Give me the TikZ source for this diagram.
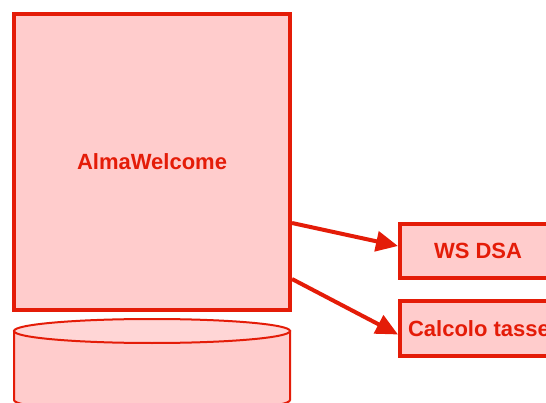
\documentclass[tikz,border=0pt]{standalone}
\usepackage{fontspec}
\setmainfont{Liberation Sans}
\usetikzlibrary{arrows.meta}
\definecolor{redline}{RGB}{228,28,8}
\definecolor{pinkfill}{RGB}{255,204,204}
\definecolor{pinktop}{RGB}{255,214,214}
\tikzset{
  box/.style={draw=redline, fill=pinkfill, line width=4pt, text=redline,
    font=\fontsize{22}{26}\selectfont\bfseries, inner sep=0pt},
  conn/.style={draw=redline, line width=4pt, -{Triangle[length=22pt,width=20pt]}},
}
\begin{document}
\begin{tikzpicture}[x=1pt,y=-1pt]
\useasboundingbox (0,0) rectangle (546,403);
\clip (0,0) rectangle (546,403);
% database cylinder
\begin{scope}[draw=redline, line width=2pt]
\path[fill=pinkfill, draw=redline] (14,331) -- (14,400) arc[start angle=180, end angle=0, x radius=138, y radius=12] -- (290,331) -- cycle;
\path[fill=pinktop, draw=redline] (152,331) ellipse[x radius=138, y radius=12];
\end{scope}
\node[box, minimum width=276pt, minimum height=296pt] (alma) at (152,162) {AlmaWelcome};
\node[box, minimum width=156pt, minimum height=54pt] (ws) at (478,251) {WS DSA};
\node[box, minimum width=158pt, minimum height=55pt] (calc) at (479,328.5) {Calcolo tasse};
\draw[conn] ([yshift=-61pt]alma.east) -- ([yshift=5pt]ws.west);
\draw[conn] ([yshift=-117pt]alma.east) -- ([yshift=-6pt]calc.west);
\end{tikzpicture}
\end{document}
